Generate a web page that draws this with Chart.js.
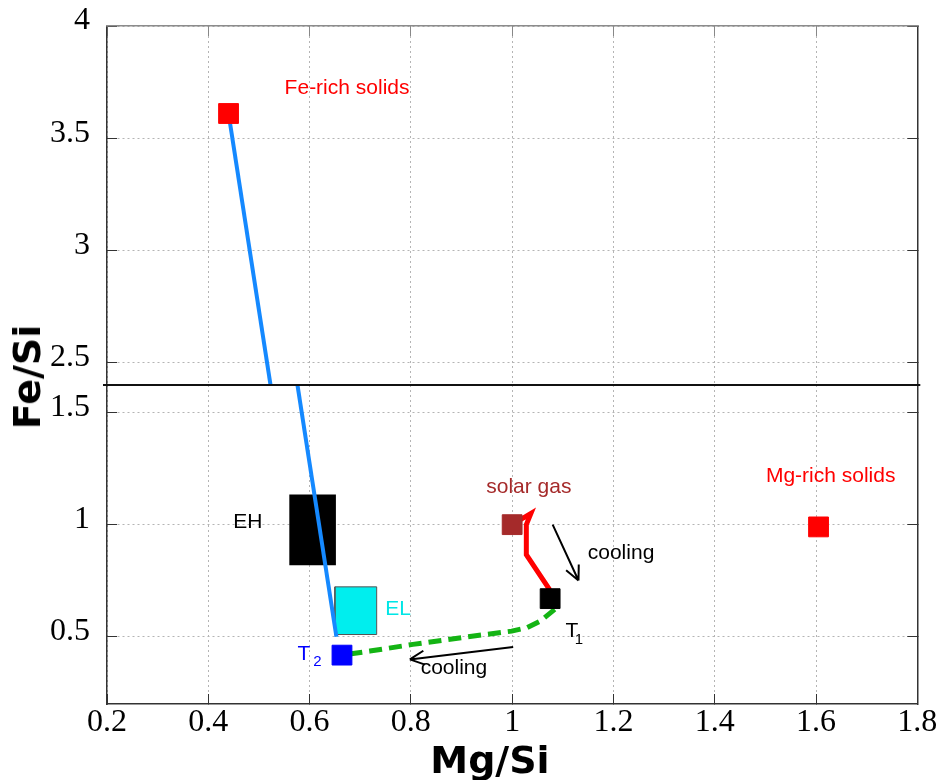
<!DOCTYPE html>
<html>

<head>
    <title>Fe/Si vs Mg/Si</title>
    <script src="https://cdn.jsdelivr.net/npm/chart.js"></script>
    <style>
        body { margin: 0; background: #fff; }
        #wrap { position: relative; width: 941px; height: 780px; }
        #wrap canvas { position: absolute; left: 0; top: 0; }
        .axisTitle {
            position: absolute;
            font: bold 38px "DejaVu Sans";
            color: #000;
            white-space: nowrap;
            transform: translate(-50%, -50%);
        }
        #yTitle { left: 27px; top: 377px; transform: translate(-50%, -50%) rotate(-90deg); }
        #xTitle { left: 490px; top: 760px; }
    </style>
</head>

<body>
    <div id="wrap">
        <canvas id="topChart" width="941" height="780"></canvas>
        <canvas id="bottomChart" width="941" height="780"></canvas>
        <div class="axisTitle" id="yTitle">Fe/Si</div>
        <div class="axisTitle" id="xTitle">Mg/Si</div>
    </div>

    <script>
        // tick values (y axis is broken between 1.62 and 2.4)
        const xTicks = [0.2, 0.4, 0.6, 0.8, 1.0, 1.2, 1.4, 1.6, 1.8];
        const yTicksTop = [2.5, 3, 3.5, 4];
        const yTicksBottom = [0.5, 1, 1.5];

        // squares: Fe-rich solids, Mg-rich solids, solar gas, T1, T2
        const markerX = [0.44, 1.605, 1.0, 1.075, 0.664];
        const markerY = [3.61, 0.99, 1.0, 0.67, 0.418];

        // mixing line from Fe-rich solids down to EH/EL
        const mixX = [0.44, 0.653];
        const mixY = [3.61, 0.50];

        // gas path solar gas -> T1
        const gasX = [1.0, 1.037, 1.028, 1.028, 1.073, 1.075];
        const gasY = [1.0, 1.05, 1.0, 0.866, 0.714, 0.67];

        // cooling path T1 -> T2
        const coolX = [1.084, 1.055, 1.029, 0.999, 0.903, 0.804, 0.719, 0.664];
        const coolY = [0.622, 0.569, 0.540, 0.525, 0.497, 0.466, 0.436, 0.418];

        // chondrite boxes [min, max]
        const ehX = [0.56, 0.652];
        const ehY = [0.819, 1.134];
        const elX = [0.650, 0.7325];
        const elY = [0.51, 0.7226];

        // "cooling" arrows
        const arrowFromX = [1.08, 1.002];
        const arrowFromY = [1.0, 0.454];
        const arrowToX = [1.131, 0.798];
        const arrowToY = [0.751, 0.399];

        const notes = [
            { text: 'Fe-rich solids', x: 0.674, y: 3.724, color: '#ff0000' },
            { text: 'Mg-rich solids', x: 1.629, y: 1.218, color: '#ff0000' },
            { text: 'solar gas', x: 1.033, y: 1.165, color: '#a52a2a' },
            { text: 'cooling', x: 1.215, y: 0.871, color: '#000' },
            { text: 'cooling', x: 0.885, y: 0.359, color: '#000' },
            { text: 'EH', x: 0.478, y: 1.013, color: '#000' },
            { text: 'EL', x: 0.775, y: 0.622, color: '#00e6e6' },
            { text: 'T', x: 0.589, y: 0.424, color: '#0000ff' },
            { text: '2', x: 0.6155, y: 0.39, color: '#0000ff', size: 15 },
            { text: 'T', x: 1.118, y: 0.524, color: '#000' },
            { text: '1', x: 1.132, y: 0.484, color: '#000', size: 15 }
        ];

        const pts = (xs, ys) => xs.map((v, i) => ({ x: v, y: ys[i] }));
        const box = (xs, ys) => pts([xs[0], xs[1], xs[1], xs[0], xs[0]], [ys[0], ys[0], ys[1], ys[1], ys[0]]);

        function buildDatasets() {
            return [
                {
                    data: pts(markerX, markerY), showLine: false,
                    pointStyle: 'rect', pointRadius: 14, pointBorderWidth: 1,
                    pointBackgroundColor: ['#ff0000', '#ff0000', '#a52a2a', '#000000', '#0000ff'],
                    pointBorderColor: ['#ff0000', '#ff0000', '#a52a2a', '#000000', '#0000ff']
                },
                { data: pts(mixX, mixY), borderColor: '#1589ff', borderWidth: 4, pointRadius: 0 },
                { data: pts(gasX, gasY), borderColor: '#ff0000', borderWidth: 5, pointRadius: 0 },
                { data: pts(coolX, coolY), borderColor: '#14b414', borderWidth: 5, borderDash: [13, 7], pointRadius: 0 },
                { data: box(elX, elY), borderColor: '#555', borderWidth: 1, backgroundColor: '#00eeee', fill: 'shape', pointRadius: 0 },
                { data: box(ehX, ehY), borderColor: '#000', borderWidth: 0, backgroundColor: '#000', fill: 'shape', pointRadius: 0 }
            ];
        }

        const annotate = {
            id: 'annotate',
            afterDatasetsDraw(chart) {
                const { ctx, scales: { x, y } } = chart;
                const inPanel = v => v >= y.min && v <= y.max;
                ctx.save();
                ctx.strokeStyle = '#000';
                ctx.lineWidth = 2;
                arrowFromX.forEach((_, i) => {
                    if (!inPanel(arrowFromY[i])) return;
                    const x0 = x.getPixelForValue(arrowFromX[i]), y0 = y.getPixelForValue(arrowFromY[i]);
                    const x1 = x.getPixelForValue(arrowToX[i]), y1 = y.getPixelForValue(arrowToY[i]);
                    const a = Math.atan2(y1 - y0, x1 - x0);
                    ctx.beginPath();
                    ctx.moveTo(x0, y0);
                    ctx.lineTo(x1, y1);
                    [-1, 1].forEach(s => {
                        ctx.moveTo(x1, y1);
                        ctx.lineTo(x1 - 16 * Math.cos(a + s * 0.45), y1 - 16 * Math.sin(a + s * 0.45));
                    });
                    ctx.stroke();
                });
                ctx.textAlign = 'center';
                ctx.textBaseline = 'middle';
                notes.forEach(n => {
                    if (!inPanel(n.y)) return;
                    ctx.font = (n.size || 21) + 'px "Liberation Sans"';
                    ctx.fillStyle = n.color;
                    ctx.fillText(n.text, x.getPixelForValue(n.x), y.getPixelForValue(n.y));
                });
                // break line of the y axis
                if (chart.canvas.id === 'bottomChart') {
                    const area = chart.chartArea;
                    ctx.strokeStyle = '#111';
                    ctx.lineWidth = 2;
                    ctx.beginPath();
                    ctx.moveTo(area.left - 4, area.top);
                    ctx.lineTo(area.right + 3, area.top);
                    ctx.stroke();
                }
                ctx.restore();
            }
        };

        const fixTicks = vals => scale => { scale.ticks = vals.map(v => ({ value: v })); };
        // fixed axis size, and no extra room for overhanging labels
        const fixSize = (w, h) => s => {
            if (w !== null) s.width = w;
            if (h !== null) s.height = h;
            s.paddingTop = s.paddingBottom = s.paddingLeft = s.paddingRight = 0;
        };
        const gridColor = '#b4b4b4';

        function makeChart(id, yMin, yMax, yTicks, isBottom) {
            const scales = {
                x: {
                    type: 'linear', position: 'bottom', min: 0.2, max: 1.8,
                    afterBuildTicks: fixTicks(xTicks),
                    afterFit: fixSize(null, isBottom ? 76 : 0),
                    grid: { color: gridColor, drawTicks: isBottom, tickLength: -10, tickColor: '#333', tickBorderDash: [] },
                    border: { display: isBottom, color: '#333', width: 1.5, dash: [2, 3] },
                    ticks: {
                        display: isBottom, color: '#000', padding: 9,
                        font: { family: 'Liberation Serif', size: 32 },
                        callback: v => Number(v.toFixed(1)).toString()
                    }
                },
                y: {
                    type: 'linear', position: 'left', min: yMin, max: yMax,
                    afterBuildTicks: fixTicks(yTicks),
                    afterFit: fixSize(107, null),
                    grid: { color: gridColor, tickLength: -10, tickColor: '#333', tickBorderDash: [] },
                    border: { color: '#333', width: 1.5, dash: [2, 3] },
                    ticks: {
                        color: '#000', padding: 27, labelOffset: -5,
                        font: { family: 'Liberation Serif', size: 32 },
                        callback: v => String(v)
                    }
                },
                yRight: {
                    axis: 'y', type: 'linear', position: 'right', min: yMin, max: yMax,
                    afterBuildTicks: fixTicks(yTicks),
                    afterFit: fixSize(0, null),
                    grid: { drawOnChartArea: false, tickLength: -10, tickColor: '#333', tickBorderDash: [] },
                    border: { color: '#333', width: 1.5 },
                    ticks: { display: false }
                }
            };
            if (!isBottom) {
                scales.xTop = {
                    axis: 'x', type: 'linear', position: 'top', min: 0.2, max: 1.8,
                    afterBuildTicks: fixTicks(xTicks),
                    afterFit: fixSize(null, 0),
                    grid: { drawOnChartArea: false, tickLength: -10, tickColor: '#888', tickBorderDash: [] },
                    border: { color: '#8c8c8c', width: 1.5 },
                    ticks: { display: false }
                };
            }
            return new Chart(document.getElementById(id), {
                type: 'line',
                data: { datasets: buildDatasets().map(d => Object.assign(d, { xAxisID: 'x', yAxisID: 'y' })) },
                options: {
                    responsive: false,
                    animation: false,
                    events: [],
                    layout: {
                        padding: { top: isBottom ? 385 : 26, bottom: isBottom ? 0 : 395, left: 0, right: 23.7 }
                    },
                    plugins: { legend: { display: false }, tooltip: { enabled: false } },
                    scales: scales
                },
                plugins: [annotate]
            });
        }

        makeChart('topChart', 2.4, 4, yTicksTop, false);
        makeChart('bottomChart', 0.2, 1.623, yTicksBottom, true);
    </script>
</body>

</html>
